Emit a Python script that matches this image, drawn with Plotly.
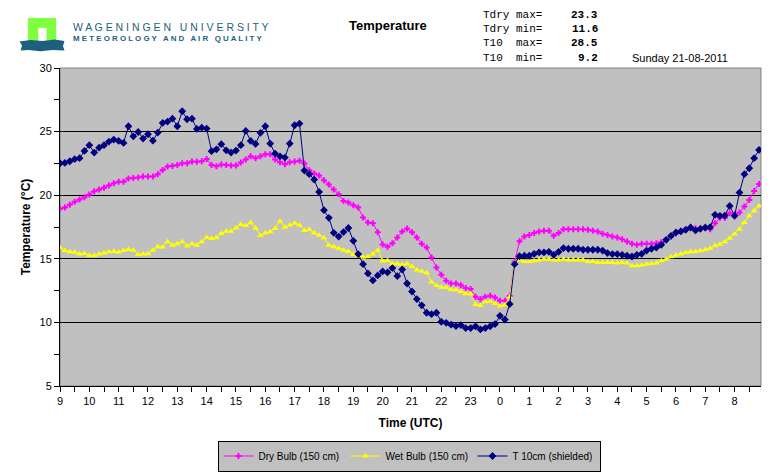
import numpy as np
import plotly.graph_objects as go

# 10-minute readings, 21-08-2011 09:00 UTC -> 22-08-2011 08:50 UTC
dry_bulb = [
    18.93, 19.03, 19.24, 19.48, 19.66, 19.84, 20.05, 20.31, 20.45, 20.58,
    20.76, 20.94, 21.05, 21.05, 21.31, 21.36, 21.39, 21.47, 21.47, 21.47,
    21.65, 21.99, 22.25, 22.30, 22.38, 22.51, 22.51, 22.64, 22.62, 22.67,
    22.85, 22.38, 22.28, 22.41, 22.38, 22.33, 22.33, 22.57, 22.80, 23.06,
    22.91, 23.06, 23.22, 23.22, 22.80, 22.59, 22.43, 22.59, 22.64, 22.70,
    22.49, 21.96, 21.70, 21.54, 21.18, 20.84, 20.45, 20.08, 19.55, 19.43,
    19.21, 19.03, 18.25, 17.85, 17.80, 17.09, 16.13, 15.94, 16.23, 16.68,
    17.15, 17.38, 17.09, 16.68, 16.18, 15.89, 15.10, 14.32, 13.74, 13.27,
    13.06, 13.06, 12.93, 12.70, 12.62, 12.02, 11.83, 12.02, 12.09, 11.96,
    11.70, 11.70, 12.08, 14.78, 16.38,
    16.75, 16.88, 17.02, 17.15, 17.20, 17.20, 16.81, 17.02, 17.33, 17.33,
    17.33, 17.33, 17.33, 17.28, 17.20, 17.15, 16.96, 16.88, 16.75, 16.68,
    16.54, 16.36, 16.18, 16.10, 16.18, 16.18, 16.18, 16.23, 16.31, 16.49,
    16.75, 16.99, 17.20, 17.33, 17.46, 17.41, 17.41, 17.41, 17.33, 17.80,
    18.22, 18.22, 18.59, 18.51, 18.64, 19.11, 19.63, 20.34, 20.89,
]
wet_bulb = [
    15.86, 15.65, 15.55, 15.52, 15.37, 15.42, 15.26, 15.26, 15.37, 15.45,
    15.55, 15.58, 15.52, 15.65, 15.73, 15.68, 15.34, 15.37, 15.39, 15.68,
    15.94, 15.92, 16.34, 16.07, 16.18, 16.34, 16.00, 16.18, 16.07, 16.34,
    16.68, 16.60, 16.65, 16.99, 17.17, 17.17, 17.43, 17.70, 17.62, 17.83,
    17.43, 16.83, 17.02, 17.12, 17.38, 17.96, 17.49, 17.64, 17.80, 17.64,
    17.23, 17.30, 17.02, 16.86, 16.65, 16.07, 15.94, 15.81, 15.68, 15.58,
    15.34, 15.24, 15.13, 15.16, 15.37, 15.68, 14.82, 14.87, 14.61, 14.61,
    14.56, 14.61, 14.40, 14.11, 14.03, 13.88, 13.17, 12.91, 12.77, 12.75,
    12.59, 12.57, 12.43, 12.25, 12.25, 11.41, 11.33, 11.62, 11.65, 11.49,
    11.29, 11.36, 12.00, 14.70, 14.90,
    14.79, 14.79, 14.84, 14.90, 14.97, 14.97, 14.90, 14.90, 14.97, 14.90,
    14.90, 14.90, 14.90, 14.79, 14.79, 14.71, 14.71, 14.71, 14.71, 14.66,
    14.71, 14.66, 14.45, 14.45, 14.50, 14.58, 14.63, 14.66, 14.84, 14.97,
    15.16, 15.29, 15.37, 15.50, 15.55, 15.58, 15.63, 15.71, 15.81, 16.02,
    16.15, 16.34, 16.62, 16.94, 17.33, 17.85, 18.38, 18.77, 19.16,
]
t10_shielded = [
    22.51, 22.54, 22.67, 22.83, 22.91, 23.48, 23.93, 23.35, 23.74, 23.93,
    24.21, 24.37, 24.27, 24.11, 25.42, 24.63, 24.97, 24.45, 24.79, 24.29,
    24.92, 25.68, 25.79, 26.02, 25.42, 26.60, 25.97, 26.02, 25.21, 25.31,
    25.24, 23.46, 23.61, 24.01, 23.53, 23.35, 23.51, 23.93, 25.05, 24.27,
    24.03, 24.90, 25.42, 24.06, 23.27, 23.06, 22.96, 24.06, 25.50, 25.63,
    21.94, 21.65, 21.23, 20.26, 18.82, 18.22, 17.04, 16.75, 17.10, 17.42,
    16.41, 15.37, 14.58, 13.85, 13.30, 13.69, 14.01, 13.93, 14.27, 13.64,
    14.16, 13.06, 12.43, 11.83, 11.34, 10.76, 10.65, 10.76, 10.05, 9.97,
    9.82, 9.71, 9.79, 9.55, 9.55, 9.69, 9.45, 9.55, 9.69, 9.87,
    10.52, 10.22, 11.44, 14.58, 15.20,
    15.24, 15.24, 15.39, 15.50, 15.50, 15.55, 15.31, 15.55, 15.84, 15.79,
    15.79, 15.79, 15.71, 15.71, 15.71, 15.71, 15.65, 15.45, 15.37, 15.37,
    15.31, 15.24, 15.18, 15.31, 15.39, 15.65, 15.79, 15.89, 16.10, 16.49,
    16.81, 17.07, 17.15, 17.28, 17.46, 17.23, 17.36, 17.46, 17.49, 18.46,
    18.38, 18.40, 19.16, 18.38, 20.21, 21.65, 22.12, 22.91, 23.56,
]

# hours since midnight of day 1 (continues past 24)
hours = 9 + np.arange(len(dry_bulb)) / 6.0
hour_ticks = list(range(9, 33))
hour_labels = [str(h % 24) for h in hour_ticks]
y_ticks = [5, 10, 15, 20, 25, 30]
grid_vals = [10, 15, 20, 25]

stat_names = ['Tdry max=', 'Tdry min=', 'T10  max=', 'T10  min=']
stat_values = ['23.3', '11.6', '28.5', '9.2']
date_text = 'Sunday 21-08-2011'

# plot area in pixels, used to place the header texts
L, R, T, B = 59.5, 761.5, 67.5, 386
W, H = R - L, B - T


def fx(x):
    return (x - L) / W


def fy(y):
    return (B - y) / H


fig = go.Figure()

fig.add_trace(go.Scatter(x=hours, y=dry_bulb, name='Dry Bulb (150 cm)', mode='lines+markers',
                         line=dict(color='#FF00FF', width=1),
                         marker=dict(symbol='cross', size=5, color='#FF00FF')))
fig.add_trace(go.Scatter(x=hours, y=wet_bulb, name='Wet Bulb (150 cm)', mode='lines+markers',
                         line=dict(color='#FFFF00', width=1),
                         marker=dict(symbol='triangle-up', size=6, color='#FFFF00')))
fig.add_trace(go.Scatter(x=hours, y=t10_shielded, name='T 10cm (shielded)', mode='lines+markers',
                         line=dict(color='#000080', width=1),
                         marker=dict(symbol='diamond', size=6, color='#000080')))
# carrier for the gridline axis
fig.add_trace(go.Scatter(x=[], y=[], yaxis='y2', showlegend=False, hoverinfo='skip'))

fig.update_layout(
    width=776, height=476,
    margin=dict(l=L, r=776 - R, t=T, b=476 - B),
    paper_bgcolor='white', plot_bgcolor='#C0C0C0',
    font=dict(family='Liberation Sans, Arial', size=11, color='black'),
    legend=dict(orientation='h', xref='container', yref='container',
                x=409 / 776, xanchor='center', y=1 - 456 / 476, yanchor='middle',
                bgcolor='#C0C0C0', bordercolor='black', borderwidth=1,
                font=dict(size=10), itemwidth=30, entrywidth=82, tracegroupgap=0),
    xaxis=dict(range=[9, 32.9], tickvals=hour_ticks, ticktext=hour_labels,
               ticks='outside', ticklen=5, tickcolor='black',
               showline=True, linecolor='black', linewidth=1,
               showgrid=False, zeroline=False,
               minor=dict(dtick=0.5, tick0=9, ticks='outside', ticklen=5, tickcolor='black'),
               title=dict(text='<b>Time (UTC)</b>', font=dict(size=12), standoff=12)),
    yaxis=dict(range=[5, 30], tickvals=y_ticks,
               ticks='outside', ticklen=5, tickcolor='black',
               showline=True, linecolor='black', linewidth=1,
               showgrid=False, zeroline=False,
               minor=dict(dtick=2.5, tick0=5, ticks='outside', ticklen=5, tickcolor='black'),
               title=dict(text='<b>Temperature (°C)</b>', font=dict(size=12), standoff=6)),
    yaxis2=dict(range=[5, 30], overlaying='y', tickvals=grid_vals, showticklabels=False,
                ticks='', showgrid=True, gridcolor='black', gridwidth=1,
                showline=False, zeroline=False),
)

# plot area frame
fig.add_shape(type='rect', xref='paper', yref='paper', x0=0, x1=1, y0=0, y1=1,
              line=dict(color='#808080', width=1), layer='below')

# logo
fig.add_shape(type='rect', xref='paper', yref='paper',
              x0=fx(27.3), x1=fx(55.7), y0=fy(42.7), y1=fy(17.3),
              fillcolor='#80FF40', line=dict(width=0))
fig.add_shape(type='rect', xref='paper', yref='paper',
              x0=fx(37.7), x1=fx(46), y0=fy(42.7), y1=fy(27.3),
              fillcolor='white', line=dict(width=0))
blob = [(19, 41), (30, 39.5), (42, 40.5), (54, 39), (64, 40.5), (62.5, 45.5), (64, 50),
        (52, 49.5), (40, 50.7), (28, 49.5), (20, 50), (21.5, 45)]
path = 'M ' + ' L '.join(f'{fx(a):.4f},{fy(b):.4f}' for a, b in blob) + ' Z'
fig.add_shape(type='path', xref='paper', yref='paper', path=path,
              fillcolor='#1d5f7e', line=dict(width=0))

ann = []
ann.append(dict(x=fx(71), y=fy(26), xanchor='left', yanchor='middle',
                text=' '.join('WAGENINGEN UNIVERSITY'),
                font=dict(size=10.5, color='#1d5f7e')))
ann.append(dict(x=fx(71), y=fy(38), xanchor='left', yanchor='middle',
                text='<b>' + ' '.join('METEOROLOGY AND AIR QUALITY') + '</b>',
                font=dict(size=7.9, color='#1d5f7e')))
ann.append(dict(x=fx(387.6), y=fy(25), xanchor='center', yanchor='middle',
                text='<b>Temperature</b>', font=dict(size=13)))
row_y = [14, 28.3, 42.7, 57.3]
for name, val, yy in zip(stat_names, stat_values, row_y):
    ann.append(dict(x=fx(481), y=fy(yy), xanchor='left', yanchor='middle', text=name.replace(' ', '&nbsp;'),
                    font=dict(family='Liberation Mono, Courier New', size=11)))
    ann.append(dict(x=fx(600), y=fy(yy), xanchor='right', yanchor='middle', text=f'<b>{val}</b>',
                    font=dict(family='Liberation Mono, Courier New', size=11)))
ann.append(dict(x=fx(630), y=fy(57.3), xanchor='left', yanchor='middle', text=date_text,
                font=dict(size=11)))
for a in ann:
    a.update(xref='paper', yref='paper', showarrow=False)
fig.update_layout(annotations=ann)

# drop the page's default body margin so the figure sits at the window origin
fig.write_html("out.html", config={'displayModeBar': False},
               post_script="document.body.style.margin='0';")
